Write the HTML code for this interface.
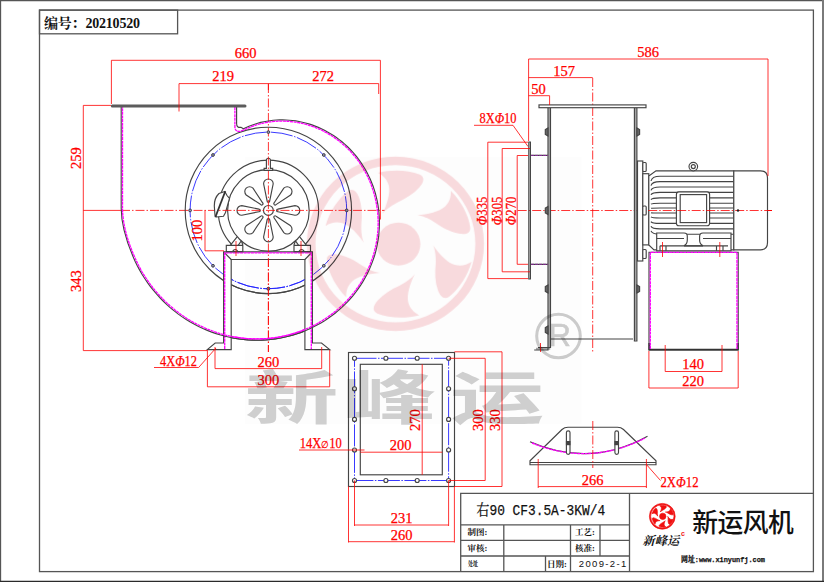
<!DOCTYPE html>
<html lang="zh"><head><meta charset="utf-8"><title>右90 CF3.5A-3KW/4</title>
<style>
html,body{margin:0;padding:0;background:#fff}
body{width:824px;height:582px;overflow:hidden}
svg{display:block}
.g{stroke:#444;stroke-width:1.15;fill:none}
.gw{stroke:#444;stroke-width:1.15;fill:#fff}
.g2{stroke:#5c5c5c;stroke-width:3;fill:none;stroke-linecap:round}
.f{stroke:#555;stroke-width:1.3;fill:none}
.r{stroke:#f00;stroke-width:.8;fill:none}
.c{stroke:#f00;stroke-width:.8;fill:none;stroke-dasharray:9 2 1.5 2}
.m{stroke:#f0f;stroke-width:1.35;fill:none;stroke-dasharray:3 .6}
.b{stroke:#22f;stroke-width:.9;fill:none;stroke-dasharray:22 1.5 1.5 1.5}
.d{font-family:"Liberation Serif",serif;font-size:14.5px;fill:#f00;text-anchor:middle;stroke:#f00;stroke-width:.25}
.k{font-family:"Liberation Serif","Noto Serif CJK SC",serif;fill:#111}
.s{font-family:"Liberation Sans","Noto Sans CJK SC",sans-serif;fill:#111}
.mo{font-family:"Liberation Mono","Noto Serif CJK SC",monospace;fill:#111;stroke:#111;stroke-width:.25}
</style></head><body>
<svg width="824" height="582" viewBox="0 0 824 582">
<defs>
<g id="logo">
<path fill-rule="evenodd" d="M0,-100A100,100 0 1 1 0,100A100,100 0 1 1 0,-100ZM0,-90.2A90.2,90.2 0 1 0 0,90.2A90.2,90.2 0 1 0 0,-90.2Z"/>
<g transform="translate(3.5,0.3)"><circle r="24.7"/>
<g id="bl"><path d="M59,-61.1C70,-50 79,-34 81,-19C81.5,-12.5 76,-10.5 68,-12C58,-14 49,-19 41.1,-24.7C33,-30 26,-32.5 20.7,-33.1C33,-34 46,-37 52.5,-43C57.5,-48 59.5,-54 59,-61.1Z"/></g>
<use href="#bl" transform="rotate(60)"/><use href="#bl" transform="rotate(120)"/><use href="#bl" transform="rotate(180)"/><use href="#bl" transform="rotate(240)"/><use href="#bl" transform="rotate(300)"/></g>
</g>
<g id="hole"><circle r="2" class="gw"/></g>
<g id="bd"><circle r="1.4" fill="#99a" stroke="#334" stroke-width=".9"/></g>
</defs>
<rect width="824" height="582" fill="#fff"/>
<rect x="245" y="157" width="336.5" height="267" fill="#fdfdfd"/>

<path d="M0.5,582V0.5H824" class="f" stroke-width="1.1"/><path d="M823,0V582" stroke="#7a7a7a" stroke-width="2" fill="none"/><path d="M0,581.4H824" stroke="#2a2a2a" stroke-width="1.2" fill="none"/>
<rect x="39.5" y="10.1" width="773.9" height="561.5" class="f"/>
<rect x="39.5" y="10.1" width="138.1" height="23.7" class="f"/>
<text x="44" y="27.6" class="k" font-size="14" font-weight="bold" textLength="96" lengthAdjust="spacing">编号：20210520</text>
<path class="r" d="M83.3,210.4H121"/>
<path class="c" d="M121,210.4H384.5"/>
<path class="c" d="M268.4,84V352"/>
<circle cx="268.4" cy="210.4" r="83.2" class="g"/>
<circle cx="268.4" cy="210.4" r="78.3" class="b"/>
<use href="#bd" x="346.7" y="210.4"/>
<use href="#bd" x="323.8" y="265.8"/>
<use href="#bd" x="268.4" y="288.7"/>
<use href="#bd" x="213.0" y="265.8"/>
<use href="#bd" x="190.1" y="210.4"/>
<use href="#bd" x="213.0" y="155.0"/>
<use href="#bd" x="268.4" y="132.1"/>
<use href="#bd" x="323.8" y="155.0"/>
<path class="gw" d="M223.6,251.8H312.4V343H321.5L329.7,349.6H304.9V259.5H231.2V349.6H207.3L215.2,343H223.6Z"/>
<path class="g" d="M223.6,251.8L231.2,259.5M312.4,251.8L304.9,259.5"/>
<clipPath id="cl"><rect x="231.7" y="260" width="72.7" height="85"/></clipPath>
<g clip-path="url(#cl)"><circle cx="268.4" cy="210.4" r="83.2" class="g"/><circle cx="268.4" cy="210.4" r="78.3" class="b"/>
<path class="g" d="M330.0,317.1 L324.6,320.7 L319.0,324.1 L313.2,327.1 L307.2,329.9 L301.1,332.4 L294.8,334.5 L288.3,336.3 L281.8,337.8 L275.1,338.9 L268.4,339.7 L261.6,340.1 L254.8,340.2 L247.9,339.9 L241.0,339.2 L234.2,338.2 L227.3,336.8 L220.6,335.0 L213.9,332.9 L207.3,330.4 L200.8,327.5 L194.4,324.3"/><path class="m" d="M329.4,316.0 L324.0,319.6 L318.5,322.9 L312.8,326.0 L306.8,328.7 L300.8,331.1 L294.5,333.3 L288.1,335.1 L281.7,336.5 L275.1,337.7 L268.4,338.5 L261.7,338.9 L254.9,338.9 L248.1,338.7 L241.3,338.0 L234.5,337.0 L227.7,335.6 L221.0,333.8 L214.4,331.7 L207.8,329.3 L201.4,326.4 L195.1,323.3"/>
<use href="#bd" x="268.4" y="288.7"/></g>
<path class="c" d="M268.4,252V352" stroke-dashoffset="8.5"/>
<path class="m" d="M224.7,349V252.8H311.3V349"/>
<path class="g" d="M236.6,107V123.5Q236.6,128 241,127.3 L243.4,128.8 L246.2,127.5 L249.0,126.3 L251.8,125.2 L254.7,124.2 L257.7,123.2 L260.7,122.4 L263.8,121.7 L266.8,121.2 L270.0,120.7 L273.1,120.3 L276.3,120.0 L279.5,119.9 L282.7,119.9 L286.0,120.0 L289.2,120.2 L292.5,120.5 L295.8,120.9 L299.0,121.5 L302.3,122.2 L305.5,123.0 L308.7,123.9 L312.0,124.9 L315.1,126.1 L318.3,127.4 L321.4,128.8 L324.5,130.3 L327.5,131.9 L330.5,133.7 L333.5,135.5 L336.4,137.5 L339.2,139.6 L342.0,141.8 L344.7,144.1 L347.3,146.5 L349.8,149.0 L352.3,151.7 L354.7,154.4 L357.0,157.2 L359.2,160.1 L361.3,163.1 L363.3,166.2 L365.2,169.3 L367.0,172.6 L368.7,175.9 L370.3,179.3 L371.7,182.7 L373.1,186.2 L374.3,189.8 L375.4,193.5 L376.3,197.1 L377.2,200.9 L377.9,204.7 L378.5,208.5 L378.9,212.3 L379.2,216.2 L379.4,220.1 L379.4,224.0 L379.3,228.0 L379.0,231.9 L378.7,235.9 L378.1,239.8 L377.4,243.7 L376.6,247.7 L375.7,251.6 L374.6,255.5 L373.3,259.3 L371.9,263.1 L370.4,266.9 L368.7,270.7 L366.9,274.4 L365.0,278.0 L362.9,281.6 L360.7,285.1 L358.3,288.6 L355.9,292.0 L353.3,295.3 L350.5,298.5 L347.7,301.6 L344.7,304.7 L341.6,307.6 L338.4,310.4 L335.1,313.2 L331.7,315.8 L328.2,318.3 L324.6,320.7 L320.9,323.0 L317.1,325.1 L313.2,327.1 L309.2,329.0 L305.2,330.8 L301.1,332.4 L296.9,333.8 L292.6,335.1 L288.3,336.3 L284.0,337.3 L279.6,338.2 L275.1,338.9 L270.7,339.5 L266.1,339.9 L261.6,340.1 L257.0,340.2 L252.5,340.1 L247.9,339.9 L243.3,339.5 L238.7,338.9 L234.2,338.2 L229.6,337.3 L225.1,336.2 L220.6,335.0 L216.1,333.6 L211.7,332.1 L207.3,330.4 L202.9,328.5 L198.6,326.5 L194.4,324.3 L190.3,322.0 L186.2,319.5 L182.2,316.9 L178.3,314.1 L174.5,311.1 L170.7,308.1 L167.1,304.9 L163.6,301.5 L160.2,298.0 L156.9,294.4 L153.7,290.7 L150.6,286.9 L147.7,282.9 L144.9,278.8 L142.3,274.7 L139.8,270.4 L137.4,266.0 L135.2,261.5 C127.2,243.8 121.2,225.0 121.2,208.0 V107"/>
<path class="m" d="M234.9,107V127Q235,132.5 241,131 L247.9,128.1 L252.1,126.4 L256.4,124.9 L260.8,123.7 L265.3,122.7 L269.9,121.9 L274.6,121.4 L279.4,121.1 L284.1,121.1 L289.0,121.4 L293.8,121.9 L298.6,122.7 L303.4,123.7 L308.2,125.0 L313.0,126.6 L317.6,128.4 L322.3,130.5 L326.8,132.9 L331.2,135.5 L335.5,138.4 L339.7,141.6 L343.7,144.9 L347.6,148.5 L351.3,152.4 L354.8,156.4 L358.1,160.7 L361.2,165.1 L364.0,169.8 L366.7,174.6 L369.1,179.6 L371.2,184.8 L373.0,190.1 L374.6,195.5 L375.9,201.0 L376.9,206.6 L377.7,212.3 L378.1,218.1 L378.2,223.9 L378.0,229.7 L377.4,235.6 L376.6,241.4 L375.4,247.3 L374.0,253.1 L372.2,258.8 L370.1,264.5 L367.7,270.0 L364.9,275.5 L361.9,280.9 L358.6,286.1 L355.0,291.1 L351.1,296.0 L346.9,300.7 L342.4,305.2 L337.7,309.4 L332.8,313.4 L327.6,317.2 L322.2,320.7 L316.6,324.0 L310.8,326.9 L304.8,329.6 L298.7,331.9 L292.4,333.9 L286.0,335.6 L279.5,337.0 L272.9,338.0 L266.2,338.6 L259.4,338.9 L252.6,338.9 L245.8,338.5 L239.0,337.7 L232.2,336.6 L225.5,335.1 L218.8,333.2 L212.2,330.9 L205.7,328.4 L199.3,325.4 L193.0,322.1 L186.9,318.5 L181.0,314.5 L175.3,310.2 L169.8,305.6 L164.5,300.7 L159.5,295.5 L154.7,290.0 L150.2,284.2 L146.0,278.2 L142.1,272.0 L138.6,265.5 L135.4,258.8 C128.4,243.3 122.5,225.0 122.5,208.0 V107"/>
<path class="g2" d="M112.3,106H245"/>
<path class="gw" d="M231.6,244.5A50.2,50.2 0 1 1 305.2,244.5Z" style="stroke:none"/>
<path class="g" d="M231.6,244.5A50.2,50.2 0 1 1 305.2,244.5"/>
<path class="gw" d="M226.3,251.6V245.4H242.8V251.6Z"/><path class="g" d="M230.3,245.4L237.1,236.9M238.2,245.4L241.4,240.7L242.8,245M232.4,251.6Q235.2,247.3 238.0,251.6"/>
<path class="gw" d="M310.5,251.6V245.4H294.0V251.6Z"/><path class="g" d="M306.5,245.4L299.7,236.9M298.6,245.4L295.4,240.7L294.0,245M304.4,251.6Q301.6,247.3 298.8,251.6"/>
<circle cx="268.4" cy="210.4" r="40.8" class="gw"/>
<circle cx="268.4" cy="210.4" r="4.9" class="g"/>
<path class="g" transform="translate(268.4,210.4) rotate(0)" d="M-1.3,-9.5 L-4.8,-26.6 A4.8,4.8 0 1 1 4.8,-26.6 L1.3,-9.5 A1.3,1.3 0 0 1 -1.3,-9.5 Z"/>
<path class="g" transform="translate(268.4,210.4) rotate(45)" d="M-1.3,-9.5 L-4.8,-26.6 A4.8,4.8 0 1 1 4.8,-26.6 L1.3,-9.5 A1.3,1.3 0 0 1 -1.3,-9.5 Z"/>
<path class="g" transform="translate(268.4,210.4) rotate(90)" d="M-1.3,-9.5 L-4.8,-26.6 A4.8,4.8 0 1 1 4.8,-26.6 L1.3,-9.5 A1.3,1.3 0 0 1 -1.3,-9.5 Z"/>
<path class="g" transform="translate(268.4,210.4) rotate(135)" d="M-1.3,-9.5 L-4.8,-26.6 A4.8,4.8 0 1 1 4.8,-26.6 L1.3,-9.5 A1.3,1.3 0 0 1 -1.3,-9.5 Z"/>
<path class="g" transform="translate(268.4,210.4) rotate(180)" d="M-1.3,-9.5 L-4.8,-26.6 A4.8,4.8 0 1 1 4.8,-26.6 L1.3,-9.5 A1.3,1.3 0 0 1 -1.3,-9.5 Z"/>
<path class="g" transform="translate(268.4,210.4) rotate(225)" d="M-1.3,-9.5 L-4.8,-26.6 A4.8,4.8 0 1 1 4.8,-26.6 L1.3,-9.5 A1.3,1.3 0 0 1 -1.3,-9.5 Z"/>
<path class="g" transform="translate(268.4,210.4) rotate(270)" d="M-1.3,-9.5 L-4.8,-26.6 A4.8,4.8 0 1 1 4.8,-26.6 L1.3,-9.5 A1.3,1.3 0 0 1 -1.3,-9.5 Z"/>
<path class="g" transform="translate(268.4,210.4) rotate(315)" d="M-1.3,-9.5 L-4.8,-26.6 A4.8,4.8 0 1 1 4.8,-26.6 L1.3,-9.5 A1.3,1.3 0 0 1 -1.3,-9.5 Z"/>
<path class="gw" d="M266.4,168.3V160.2A2,2 0 0 1 270.4,160.2V168.3H272.7V170.3H264.1V168.3Z"/>
<path class="gw" d="M224.8,191.5L219,193.5Q214.2,198 214.3,206L215,215.5L216.5,217L223.5,216.2L225.5,212.5L229.5,198.5L227,195.5Z"/>
<path d="M225.3,191.2L215.3,217.2" stroke="#333" stroke-width="1.8" fill="none"/>
<path class="r" d="M236,241V256M301,241V256"/>
<path class="c" d="M218,210.4H320" stroke-dashoffset="10"/><path class="c" d="M268.4,158V252" stroke-dashoffset="1.5"/>
<path class="r" d="M111.4,104V60.3H380.4V219.5M179,111.5V83.6H378.7V94M268.4,83.6V90"/>
<text class="d" x="245.5" y="58.4">660</text><text class="d" x="223" y="81.3">219</text><text class="d" x="323" y="81.3">272</text>
<path class="r" d="M111,105.4H83.3V350.6H207"/>
<text class="d" transform="translate(80.5,158) rotate(-90)">259</text><text class="d" transform="translate(80.5,281) rotate(-90)">343</text>
<path class="r" d="M205,210.4V250.8H224"/>
<text class="d" transform="translate(201.5,230.5) rotate(-90)">100</text>
<path class="r" d="M215,347V368.6H321.7V347M207.4,350V386.8H329.7V350M154,367.5H198.6L216,348"/>
<text class="d" x="268.4" y="366.6">260</text><text class="d" x="268.4" y="384.8">300</text>
<text class="d" x="178.5" y="365.5" textLength="37" lengthAdjust="spacingAndGlyphs">4X<tspan font-style="italic">Φ</tspan>12</text>
<path class="c" d="M592.7,78V352M517.7,210.5H772"/>
<path d="M549.25,107.7V348.7H536M635.65,107.7V340.5" stroke="#a4a4a4" stroke-width="2" fill="none"/>
<path class="g" d="M548,107.7V350H534.2M550.5,107.7V339H633M550.5,339V347.5H538M634.4,107.7V341H636.9V107.7"/>
<rect x="539" y="104.9" width="107" height="2.8" class="gw"/>
<path class="g" d="M528.8,142V279H530.4V142ZM530.4,155.4H548M530.4,264.3H548" stroke-width="1.2"/>
<path d="M531,155.4H548M531,264.3H548" stroke="#8a2a9a" stroke-width="1" stroke-dasharray="3 1" fill="none"/>
<path class="gw" d="M548,128.0L545.3,129.5V134.5L548,136.0Z" style="fill:#666"/>
<path class="gw" d="M548,206.5L545.3,208.0V213.0L548,214.5Z" style="fill:#666"/>
<path class="gw" d="M548,285.0L545.3,286.5V291.5L548,293.0Z" style="fill:#666"/>
<path class="gw" d="M548,326.0L545.3,327.5V332.5L548,334.0Z" style="fill:#666"/>
<path class="gw" d="M636.9,128.0L639.6,129.5V134.5L636.9,136.0Z" style="fill:#666"/>
<path class="gw" d="M636.9,285.0L639.6,286.5V291.5L636.9,293.0Z" style="fill:#666"/>
<rect x="637.5" y="161" width="5.3" height="100" class="gw"/>
<rect x="642.8" y="173.7" width="6" height="71.2" class="gw"/>
<rect x="642.8" y="162.5" width="3.4" height="9" rx="1" class="gw"/>
<rect x="642.8" y="206.0" width="3.4" height="9" rx="1" class="gw"/>
<rect x="642.8" y="249.5" width="3.4" height="9" rx="1" class="gw"/>
<path class="gw" d="M648.8,245V176L656,170.8H733.8V249.8H654Z"/>
<path class="g" stroke-width=".8" d="M651,181.0Q652,176.2 660,176.2H733.8"/>
<path class="g" stroke-width=".8" d="M651,185.6Q652,181.6 660,181.6H733.8"/>
<path class="g" stroke-width=".8" d="M651,190.3Q652,187.0 660,187.0H733.8"/>
<path class="g" stroke-width=".8" d="M651,194.9Q652,192.4 660,192.4H733.8"/>
<path class="g" stroke-width=".8" d="M651,199.6Q652,197.8 660,197.8H733.8"/>
<path class="g" stroke-width=".8" d="M651,204.2Q652,203.2 660,203.2H733.8"/>
<path class="g" stroke-width=".8" d="M651,208.3Q652,208.0 660,208.0H733.8"/>
<path class="g" stroke-width=".8" d="M651,212.7Q652,213.0 660,213.0H733.8"/>
<path class="g" stroke-width=".8" d="M651,216.9Q652,218.0 660,218.0H733.8"/>
<path class="g" stroke-width=".8" d="M651,221.6Q652,223.4 660,223.4H733.8"/>
<path class="g" stroke-width=".8" d="M651,226.2Q652,228.8 660,228.8H733.8"/>
<path class="g" stroke-width=".8" d="M651,230.9Q652,234.2 660,234.2H733.8"/>
<path class="gw" d="M656.7,250.8V233H684Q687.5,233 687.3,236.5V240Q687.3,244 684,245.8H703Q699.6,244 699.6,240V236.5Q699.6,233 703,233H731V250.8Z"/>
<path class="g" d="M656.7,238.5H684M703,238.5H731M660,245.8H728M660,245.8V250.8M666,245.8V250.8M716.5,245.8V250.8M723,245.8V250.8"/>
<rect x="676.4" y="191.9" width="33.2" height="33.8" rx="2.5" class="gw" stroke-width="1.3"/>
<rect x="680.2" y="194.6" width="26.4" height="28" class="gw"/>
<path class="c" d="M648,210.5H772" stroke-dashoffset="14.3"/>
<path class="gw" d="M733.8,170.8H760.5Q767.5,170.8 767.5,178V242.5Q767.5,249.8 760.5,249.8H733.8Z"/>
<path class="c" d="M733.8,210.5H772" stroke-dashoffset="13.1"/>
<circle cx="738" cy="210.5" r="1.2" fill="#222"/>
<circle cx="693.3" cy="166.6" r="4.3" class="gw"/><circle cx="693.3" cy="166.6" r="2" class="g"/>
<path class="g" d="M649,252.2V350H738.2V252.2Z"/>
<path d="M648.6,349.6H738.6M649.3,343V350M737.8,343V350" stroke="#333" stroke-width="1.8" fill="none"/>
<path class="m" d="M650.3,349V252.4H737V349"/>
<path class="r" d="M662.5,242V257M719.8,242V257"/>
<path class="r" d="M528.6,141V59H768V176M528.6,77.6H592.7M528.6,95.7H549.6V105"/>
<text class="d" x="648" y="57.3">586</text><text class="d" x="564" y="75.8">157</text><text class="d" x="538.5" y="94">50</text>
<path class="r" d="M528,142.2H487.8V278.6H528M530,148.5H502.2V271.8H530M528,155.5H517.2V264.3H528"/>
<text class="d" transform="translate(487.2,211) rotate(-90)" textLength="28.5" lengthAdjust="spacingAndGlyphs"><tspan font-style="italic">Φ</tspan>335</text>
<text class="d" transform="translate(501.6,211) rotate(-90)" textLength="28.5" lengthAdjust="spacingAndGlyphs"><tspan font-style="italic">Φ</tspan>305</text>
<text class="d" transform="translate(516.4,211) rotate(-90)" textLength="28.5" lengthAdjust="spacingAndGlyphs"><tspan font-style="italic">Φ</tspan>270</text>
<path class="r" d="M474,125.3H513L528,146.5"/>
<text class="d" x="498" y="123.4" textLength="37" lengthAdjust="spacingAndGlyphs">8X<tspan font-style="italic">Φ</tspan>10</text>
<path class="r" d="M665.2,345V371.5H722V345M648.9,351V388H738.2V351"/>
<text class="d" x="693" y="369.3">140</text><text class="d" x="693" y="386">220</text>
<path class="r" d="M540.5,343V352"/>
<rect x="348.5" y="352.5" width="106" height="134" class="g"/>
<rect x="360.3" y="364.3" width="82" height="110.5" class="g"/>
<rect x="354.5" y="358.3" width="94.1" height="122.2" class="b"/>
<use href="#hole" x="354.5" y="358.3"/>
<use href="#hole" x="354.5" y="480.5"/>
<use href="#hole" x="385.9" y="358.3"/>
<use href="#hole" x="385.9" y="480.5"/>
<use href="#hole" x="417.2" y="358.3"/>
<use href="#hole" x="417.2" y="480.5"/>
<use href="#hole" x="448.6" y="358.3"/>
<use href="#hole" x="448.6" y="480.5"/>
<use href="#hole" x="354.5" y="388.8"/>
<use href="#hole" x="448.6" y="388.8"/>
<use href="#hole" x="354.5" y="419.4"/>
<use href="#hole" x="448.6" y="419.4"/>
<use href="#hole" x="354.5" y="450.0"/>
<use href="#hole" x="448.6" y="450.0"/>
<path class="r" d="M422.2,364.3V474.8M360.3,452.2H442.3M299,450H364.5"/>
<path class="r" d="M448.6,358.3H485.2V480.5H448.6M454.5,351.8H502V486.5H454.5"/>
<path class="r" d="M354.5,480.5V526M448.6,480.5V526M354.5,525H448.6M348.5,486.5V542.5M454.4,486.5V542.5M348.5,541.7H454.4"/>
<text class="d" x="400.5" y="450.2">200</text><text class="d" x="401.5" y="523.3">231</text><text class="d" x="401.5" y="540">260</text>
<text class="d" transform="translate(420,420) rotate(-90)">270</text><text class="d" transform="translate(483.3,420) rotate(-90)">300</text><text class="d" transform="translate(500,420) rotate(-90)">330</text>
<text class="d" x="320.8" y="447.6" textLength="42" lengthAdjust="spacingAndGlyphs">14X<tspan font-size="10">∅</tspan>10</text>
<path class="g" d="M530,464.7V460.8L562,429.5Q564.5,427.2 568,427.2H617.5Q621,427.2 623.5,429.5L656,460.8V464.7ZM530,462.5H656"/>
<path class="g" d="M530,441.8Q590,468 647.5,436.2" stroke="#555"/>
<path class="m" d="M532,443Q590,466.5 645,438" stroke="#c0c"/>
<rect x="566.4" y="430.8" width="3.6" height="23.6" rx="1.8" class="gw"/>
<rect x="565.9" y="441" width="4.6" height="4.2" fill="#444"/>
<rect x="614.9" y="430.8" width="3.6" height="23.6" rx="1.8" class="gw"/>
<rect x="614.4" y="441" width="4.6" height="4.2" fill="#444"/>
<path class="c" d="M592.8,421V468"/>
<path class="r" d="M538.2,459V488M646.4,459V488M538.2,486.6H646.4M646.4,464.5L660.5,480.5"/>
<text class="d" x="592.5" y="484.5">266</text>
<text class="d" x="679.5" y="486.5" textLength="38" lengthAdjust="spacingAndGlyphs">2X<tspan font-style="italic">Φ</tspan>12</text>
<path class="f" d="M813.5,493.4H460.7V571.5M460.7,524.8H629.5M460.7,540.3H629.5M460.7,556H629.5M629.5,493.4V571.5M503.8,524.8V571.5M570.5,524.8V571.5M600,524.8V556M545.5,556V571.5"/>
<text class="mo" x="476.6" y="515" font-size="15" textLength="128.5" lengthAdjust="spacingAndGlyphs">右90 CF3.5A-3KW/4</text>
<text class="k" x="467.5" y="535.3" font-size="8.5" font-weight="bold">制图:</text><text class="k" x="467.5" y="550.6" font-size="8.5" font-weight="bold">审核:</text><text class="k" x="468" y="565.6" font-size="7" font-weight="bold" textLength="10" lengthAdjust="spacingAndGlyphs">处址</text>
<text class="k" x="575" y="535.3" font-size="8.5" font-weight="bold">工艺:</text><text class="k" x="575" y="550.6" font-size="8.5" font-weight="bold">核准:</text><text class="k" x="547" y="567" font-size="8.5" font-weight="bold">日期:</text>
<text class="s" x="578.8" y="567.2" font-size="9.5" fill="#333" textLength="47.5" lengthAdjust="spacing">2009-2-1</text>
<use href="#logo" transform="translate(662.3,516.3) scale(.129)" fill="#f01010" stroke="#f01010" stroke-width="5"/>
<text class="k" x="642.6" y="545.4" font-size="12.2" font-weight="bold" fill="#333" textLength="36.6" lengthAdjust="spacingAndGlyphs" font-style="italic">新峰运</text>
<text x="681" y="535.6" font-size="7" font-weight="bold" fill="#f01818" font-family="Liberation Sans,sans-serif">c</text>
<text class="s" x="692.2" y="532" font-size="25.8" font-weight="500" textLength="101.5" lengthAdjust="spacing">新运风机</text>
<text class="mo" x="681" y="561.8" font-size="7.6" font-weight="bold" textLength="84" lengthAdjust="spacingAndGlyphs">网址:www.xinyunfj.com</text>
<g style="mix-blend-mode:multiply">
<use href="#logo" transform="translate(395.4,243.7) scale(.886,.872)" fill="#fadcdf"/>
<text transform="translate(244.5,419) scale(1.62,1)" font-family="Noto Sans CJK SC,sans-serif" font-weight="700" font-size="58" fill="#d1d1d1" x="0 60.5 127">新峰运</text>
<circle cx="558.5" cy="336" r="21.8" fill="none" stroke="#cdcdcd" stroke-width="3"/><text x="559.8" y="346.4" text-anchor="middle" font-family="Liberation Sans,sans-serif" font-size="30.5" fill="#cdcdcd" stroke="#cdcdcd" stroke-width=".6">R</text>
</g>
</svg></body></html>
